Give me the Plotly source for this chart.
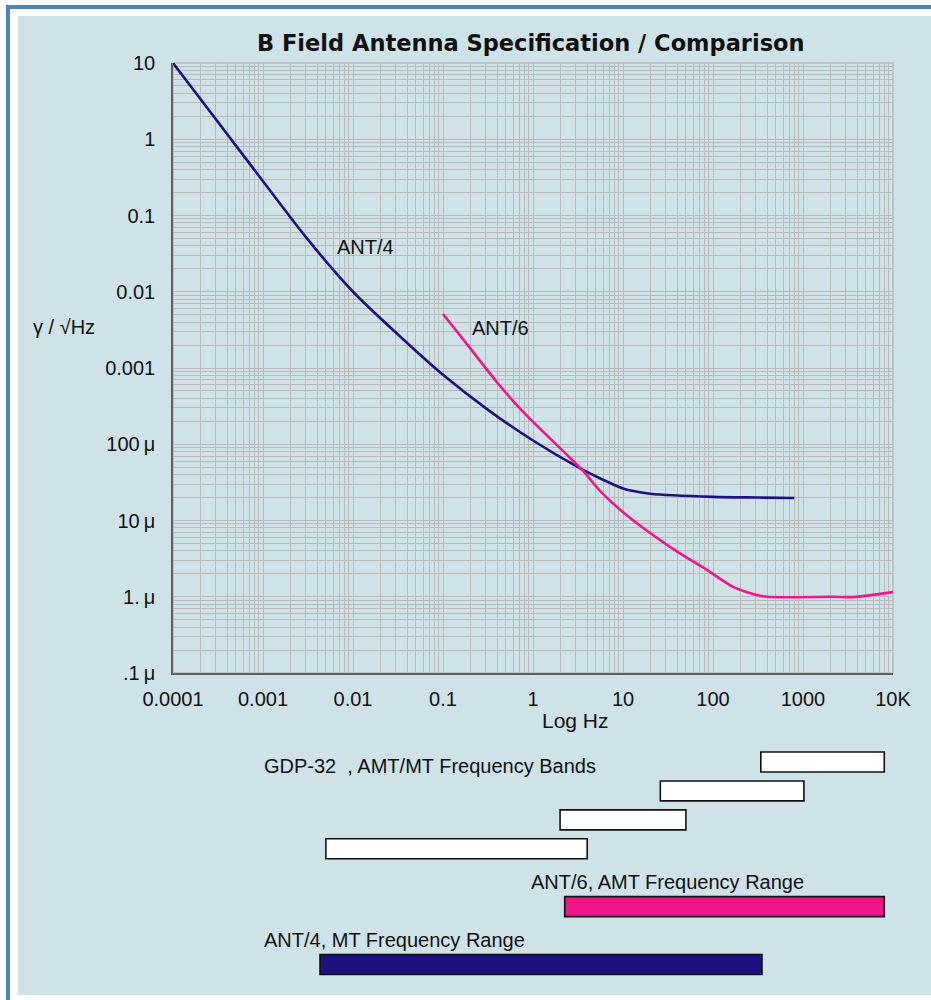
import math
import plotly.graph_objects as go

W, H = 931, 1000

# ANT/4 sensitivity curve (Hz, gamma / sqrt(Hz))
ant4_freq = [0.0001, 0.000316, 0.001, 0.00316, 0.01, 0.0316, 0.1, 0.316, 1.0,
             3.16, 5.6, 10, 12.6, 20, 100, 316, 800]
ant4_noise = [10, 1.68, 0.282, 0.0482, 0.0100, 0.00275, 0.000813, 0.000282, 0.000112,
              0.0000501, 0.0000355, 0.0000263, 0.0000245, 0.0000224, 0.0000204,
              0.0000200, 0.0000197]

# ANT/6 sensitivity curve
ant6_freq = [0.1, 0.2, 0.4, 0.7, 1.0, 1.67, 2.39, 3.6, 5.55, 11, 20, 40,
             86, 167, 278, 398, 2150, 3600, 10000]
ant6_noise = [0.0051, 0.00182, 0.000646, 0.000302, 0.000197, 0.000109, 0.0000724,
              0.0000446, 0.0000245, 0.0000117, 0.00000686, 0.0000039, 0.00000224,
              0.00000135, 0.00000109, 0.00000100, 0.00000100, 0.00000099, 0.00000115]

# Frequency bands (Hz): GDP-32 bands, then antenna ranges
band_names = ["GDP-32 band 1", "GDP-32 band 2", "GDP-32 band 3", "GDP-32 band 4",
              "ANT/6 AMT range", "ANT/4 MT range"]
band_start = [340, 26, 2, 0.005, 2.25, 0.0043]
band_end = [8000, 1024, 50, 4, 8000, 350]
band_row = [0, 1, 2, 3, 5, 7]
band_fill = ["#ffffff", "#ffffff", "#ffffff", "#ffffff", "#ef1689", "#1f1080"]

x_tickvals = [0.0001, 0.001, 0.01, 0.1, 1, 10, 100, 1000, 10000]
x_ticktext = ["0.0001", "0.001", "0.01", "0.1", "1", "10", "100", "1000", "10K"]
y_tickvals = [10, 1, 0.1, 0.01, 0.001, 1e-4, 1e-5, 1e-6, 1e-7]
y_ticktext = ["10", "1", "0.1", "0.01", "0.001", "100\u2009\u03bc", "10\u2009\u03bc",
              "1.\u2009\u03bc", ".1\u2009\u03bc"]

NAVY = "#1f1080"
PINK = "#ef1689"
GRID = "#b9b9b9"
PANEL = "#cfe2e8"
FONT = "Liberation Sans, Arial, sans-serif"


def px(x):
    return x / W


def py(y):
    return 1 - y / H


minor_vals = [m * 10 ** e for e in range(-8, 4) for m in range(2, 10)]

fig = go.Figure()

fig.add_trace(go.Scatter(x=ant4_freq, y=ant4_noise, mode="lines",
                         line=dict(color=NAVY, width=2.6, shape="spline", smoothing=0.8),
                         xaxis="x", yaxis="y", hoverinfo="skip"))
fig.add_trace(go.Scatter(x=ant6_freq, y=ant6_noise, mode="lines",
                         line=dict(color=PINK, width=2.6, shape="spline", smoothing=0.8),
                         xaxis="x", yaxis="y", hoverinfo="skip"))

for name, s, e, r, c in zip(band_names, band_start, band_end, band_row, band_fill):
    fig.add_trace(go.Bar(x=[e - s], base=[s], y=[r], orientation="h", width=0.69,
                         marker=dict(color=c, line=dict(color="#111111", width=1.6)),
                         name=name, xaxis="x2", yaxis="y2", hoverinfo="skip"))

tick_font = dict(family=FONT, size=20, color="#111111")

fig.update_layout(
    width=W, height=H,
    margin=dict(l=0, r=0, t=0, b=0, pad=0, autoexpand=False),
    paper_bgcolor="#ffffff",
    plot_bgcolor="rgba(0,0,0,0)",
    showlegend=False,
    barmode="overlay",
    xaxis=dict(type="log", range=[-4, 4], domain=[px(173), px(893)], anchor="y",
               automargin=False,
               tickvals=x_tickvals, ticktext=x_ticktext, tickfont=tick_font,
               ticks="", ticklabelstandoff=7,
               showgrid=True, gridcolor=GRID, gridwidth=1,
               minor=dict(tickvals=minor_vals, showgrid=True, gridcolor=GRID, gridwidth=1, ticks=""),
               showline=True, linecolor="#606060", linewidth=1.5, zeroline=False),
    yaxis=dict(type="log", range=[-7, 1], domain=[py(673), py(63)], anchor="x",
               automargin=False,
               tickvals=y_tickvals, ticktext=y_ticktext, tickfont=tick_font,
               ticks="", ticklabelstandoff=12,
               showgrid=True, gridcolor=GRID, gridwidth=1,
               minor=dict(tickvals=minor_vals, showgrid=True, gridcolor=GRID, gridwidth=1, ticks=""),
               showline=True, linecolor="#606060", linewidth=1.5, zeroline=False),
    xaxis2=dict(type="log", range=[-4, 4], domain=[px(173), px(893)], anchor="y2",
                automargin=False, visible=False, showgrid=False),
    yaxis2=dict(range=[8, -1], domain=[py(993.4), py(733.1)], anchor="x2",
                automargin=False, visible=False, showgrid=False),
)

# background panel and blue frame
fig.add_shape(type="rect", xref="paper", yref="paper", x0=px(18), x1=px(931),
              y0=py(995), y1=py(16), fillcolor=PANEL, line=dict(width=0), layer="below")
fig.add_shape(type="rect", xref="paper", yref="paper", x0=px(6), x1=px(931),
              y0=py(9), y1=py(5), fillcolor="#4f81bd", line=dict(width=0), layer="below")
fig.add_shape(type="rect", xref="paper", yref="paper", x0=px(6), x1=px(10),
              y0=py(1000), y1=py(5), fillcolor="#4f81bd", line=dict(width=0), layer="below")
# plot frame (top and right edges)
fig.add_shape(type="rect", xref="x domain", yref="y domain", x0=0, x1=1, y0=0, y1=1,
              line=dict(color=GRID, width=1.5), layer="below")

label_font = dict(family=FONT, size=20, color="#111111")

fig.add_annotation(text="<b>B Field Antenna Specification / Comparison</b>",
                   xref="paper", yref="paper", x=px(531), y=py(43),
                   xanchor="center", yanchor="middle", showarrow=False,
                   font=dict(family="DejaVu Sans, sans-serif", size=22.5, color="#111111"))
fig.add_annotation(text="\u03b3 / \u221aHz", xref="paper", yref="paper",
                   x=px(31), y=py(327), xanchor="left", yanchor="middle",
                   showarrow=False, font=dict(family=FONT, size=20, color="#111111"))
fig.add_annotation(text="Log Hz", xref="paper", yref="paper", x=px(575), y=py(720),
                   xanchor="center", yanchor="middle", showarrow=False,
                   font=dict(family=FONT, size=21, color="#111111"))

# curve labels (log axes take log10 positions)
fig.add_annotation(text="ANT/4", xref="x", yref="y", x=math.log10(0.0136), y=math.log10(0.0386),
                   showarrow=False, font=label_font)
fig.add_annotation(text="ANT/6", xref="x", yref="y", x=math.log10(0.44), y=math.log10(0.00335),
                   showarrow=False, font=label_font)

# band captions
fig.add_annotation(text="GDP-32  , AMT/MT Frequency Bands", xref="x2", yref="y2",
                   x=math.log10(0.00098), y=0.14, xanchor="left", yanchor="middle",
                   showarrow=False, font=label_font)
fig.add_annotation(text="ANT/6, AMT Frequency Range", xref="x2", yref="y2",
                   x=math.log10(0.9), y=4.14, xanchor="left", yanchor="middle",
                   showarrow=False, font=label_font)
fig.add_annotation(text="ANT/4, MT Frequency Range", xref="x2", yref="y2",
                   x=math.log10(0.00098), y=6.14, xanchor="left", yanchor="middle",
                   showarrow=False, font=label_font)

fig.write_html("out.html")
